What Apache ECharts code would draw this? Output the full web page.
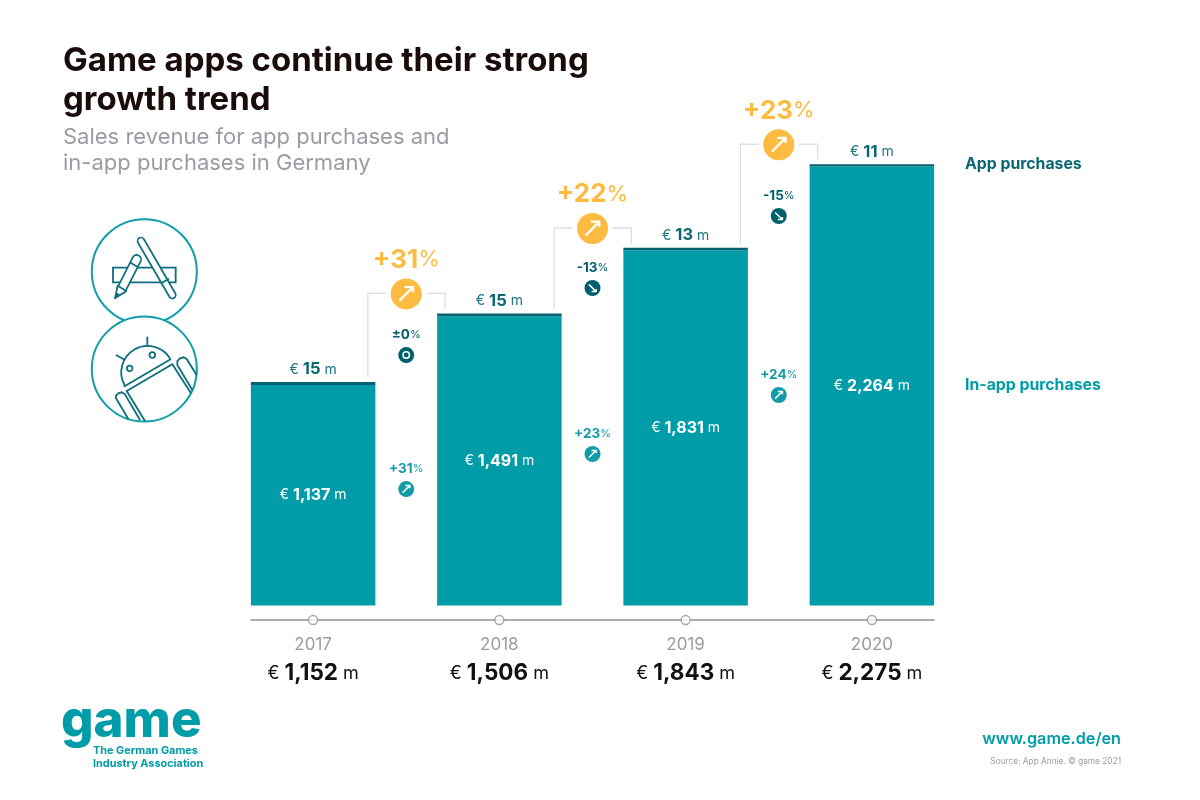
<!DOCTYPE html>
<html>
<head>
<meta charset="utf-8">
<style>html,body{margin:0;padding:0;background:#fff}#chart{width:1200px;height:800px}</style>
<script src="https://cdn.jsdelivr.net/npm/echarts@6/dist/echarts.min.js"></script>
</head>
<body>
<div id="chart"></div>
<script>
// Sales revenue in million euros
const years = ['2017', '2018', '2019', '2020'];
const inAppSales = [1137, 1491, 1831, 2264];
const appSales = [15, 15, 13, 11];
const yearTotals = [1152, 1506, 1843, 2275];
// Year-on-year change in percent, one entry per pair of years
const overallGrowth = [31, 22, 23];
const inAppGrowth = [31, 23, 24];
const appGrowth = [0, -13, -15];
// Height of the small change markers, in revenue units of the y axis
const inAppMarkerLevel = [600, 781, 1085];
const appMarkerLevel = [1291, 1637, 2008];

const TEAL = '#009ca8', DARK = '#00616f', AMBER = '#fdbb41', GREY = '#9a9ca3';
const FONT = 'Inter';
const BAR_WIDTH = 124.5;
const fmt = v => v.toLocaleString('en-US');
const signed = g => (g > 0 ? '+' : g < 0 ? '-' : '\u00b1') + Math.abs(g);

// Direction glyph inside a growth badge: up-right, down-right or a ring for no change
function glyph(cx, cy, g, s, lw, fill) {
  const st = { stroke: '#fff', lineWidth: lw, fill: 'none' };
  if (g === 0) {
    return [{ type: 'circle', shape: { cx, cy, r: s * 0.9 }, style: { stroke: '#fff', lineWidth: lw, fill: fill } }];
  }
  const d = g > 0 ? -1 : 1;
  return [
    { type: 'line', shape: { x1: cx - s, y1: cy - d * s, x2: cx + s * 0.9, y2: cy + d * s * 0.9 }, style: st },
    { type: 'polyline', shape: { points: [[cx - s * 0.25, cy + d * s], [cx + s, cy + d * s], [cx + s, cy + d * s * 0.25]] }, style: st }
  ];
}

function richLabel(x, y, main, color, mainSize, unitSize) {
  return {
    type: 'text', x, y,
    style: {
      text: '{m|' + main + '}{u|%}',
      textAlign: 'center', textVerticalAlign: 'middle',
      rich: {
        m: { fontFamily: FONT, fontWeight: 700, fontSize: mainSize, fill: color, color },
        u: { fontFamily: FONT, fontWeight: 400, fontSize: unitSize, fill: color, color }
      }
    }
  };
}

// Overall growth between two years: bracket, amber badge and headline figure
function renderOverall(params, api) {
  const i = params.dataIndex;
  const g = overallGrowth[i];
  const [cx, cy] = api.coord([api.value(0), api.value(1)]);
  const from = api.coord([i, yearTotals[i]]);
  const to = api.coord([i + 1, yearTotals[i + 1]]);
  const lx = from[0] + BAR_WIDTH / 2 - 7.5, rx = to[0] - BAR_WIDTH / 2 + 8;
  const ly = cy - 0.5;
  const line = { stroke: '#dcdfe1', lineWidth: 1.3, fill: 'none' };
  return {
    type: 'group',
    children: [
      { type: 'polyline', shape: { points: [[lx, from[1] - 4.5], [lx, ly], [cx - 20, ly]] }, style: line },
      { type: 'polyline', shape: { points: [[cx + 20, ly], [rx, ly], [rx, to[1] - 4.5]] }, style: line },
      { type: 'circle', shape: { cx, cy, r: 15.5 }, style: { fill: AMBER } },
      ...glyph(cx, cy, g, 6.8, 2.3, AMBER),
      richLabel(cx, cy - 34, signed(g), AMBER, 26, 22)
    ]
  };
}

// Small badge with its percentage for one revenue stream
function smallBadge(values, color) {
  return function (params, api) {
    const g = values[params.dataIndex];
    const [cx, cy] = api.coord([api.value(0), api.value(1)]);
    return {
      type: 'group',
      children: [
        { type: 'circle', shape: { cx, cy, r: 8 }, style: { fill: color } },
        ...glyph(cx, cy, g, 3.6, 1.5, color),
        richLabel(cx, cy - 20, signed(g), color, 13.5, 11)
      ]
    };
  };
}

const gapPositions = overallGrowth.map((_, i) => i + 0.5);
const PX_TO_UNITS = 1 / 0.19394;

const series = [
  {
    name: 'In-app purchases', type: 'bar', stack: 'sales', barWidth: BAR_WIDTH,
    xAxisIndex: 1, yAxisIndex: 1,
    itemStyle: { color: TEAL },
    data: inAppSales,
    label: {
      show: true, position: 'inside',
      formatter: p => '{c|\u20ac }{n|' + fmt(p.value) + '}{c| m}',
      rich: {
        c: { color: '#fff', fontFamily: FONT, fontSize: 14 },
        n: { color: '#fff', fontFamily: FONT, fontSize: 16, fontWeight: 700 }
      }
    }
  },
  {
    name: 'App purchases', type: 'bar', stack: 'sales', barWidth: BAR_WIDTH,
    xAxisIndex: 1, yAxisIndex: 1,
    itemStyle: { color: DARK },
    data: appSales,
    label: {
      show: true, position: 'top', distance: 4,
      formatter: p => '{c|\u20ac }{n|' + fmt(p.value) + '}{c| m}',
      rich: {
        c: { color: '#1d7684', fontFamily: FONT, fontSize: 14 },
        n: { color: '#0b6674', fontFamily: FONT, fontSize: 16.5, fontWeight: 700 }
      }
    }
  },
  {
    name: 'Axis markers', type: 'scatter', symbol: 'circle', symbolSize: 9, clip: false, silent: true, z: 5,
    itemStyle: { color: '#fff', borderColor: '#8d919b', borderWidth: 1.3 },
    data: years.map((_, i) => [i, -75])
  },
  {
    name: 'Overall growth', type: 'custom', clip: false, silent: true, z: 6,
    renderItem: renderOverall,
    encode: { x: 0, y: 1 },
    data: gapPositions.map((x, i) => [x, yearTotals[i + 1] + 19.5 * PX_TO_UNITS])
  },
  {
    name: 'In-app change', type: 'custom', clip: false, silent: true, z: 6,
    renderItem: smallBadge(inAppGrowth, '#119ca8'),
    encode: { x: 0, y: 1 },
    data: gapPositions.map((x, i) => [x, inAppMarkerLevel[i]])
  },
  {
    name: 'App change', type: 'custom', clip: false, silent: true, z: 6,
    renderItem: smallBadge(appGrowth, '#00606e'),
    encode: { x: 0, y: 1 },
    data: gapPositions.map((x, i) => [x, appMarkerLevel[i]])
  }
];

// Decorative icons and page furniture
const iconStroke = { stroke: '#0d6f7c', lineWidth: 1.8, fill: 'none' };
const ringStroke = { stroke: '#119ea8', lineWidth: 2, fill: '#fff' };
const atA = (x, y) => [85 + x / 3, 215 + y / 3];
const atR = (x, y) => [85 + x / 3, 315 + y / 3];
const poly = (pts, map, style) => ({ type: 'polyline', shape: { points: pts.map(p => map(p[0], p[1])) }, style: style || iconStroke });
const pill = (a, b, map, w) => {
  const [x1, y1] = map(a[0], a[1]), [x2, y2] = map(b[0], b[1]);
  return [
    { type: 'line', shape: { x1, y1, x2, y2 }, style: { stroke: '#0d6f7c', lineWidth: w, lineCap: 'round' } },
    { type: 'line', shape: { x1, y1, x2, y2 }, style: { stroke: '#fff', lineWidth: w - 3.4, lineCap: 'round' } }
  ];
};
const txt = (text, x, y, size, weight, fill, align) => ({
  type: 'text', x, y,
  style: { text, fontFamily: FONT, fontSize: size, fontWeight: weight, fill, textAlign: align || 'left', textVerticalAlign: 'middle' }
});

const appIcon = [
  { type: 'circle', shape: { cx: 144.3, cy: 271.7, r: 52.5 }, style: ringStroke },
  (() => {
    const [x, y] = atA(84, 158), [x2, y2] = atA(272, 202);
    return { type: 'rect', shape: { x, y, width: x2 - x, height: y2 - y }, style: iconStroke };
  })(),
  ...pill([168, 78], [262, 240], atA, 8.5),
  poly([[228, 205], [252, 191]], atA),
  ...pill([110, 222], [155, 133], atA, 10.5),
  { type: 'polygon', shape: { points: [atA(90, 250), atA(98, 212), atA(124, 228)] }, style: { stroke: '#0d6f7c', lineWidth: 1.8, fill: '#fff', lineJoin: 'round' } },
  { type: 'polygon', shape: { points: [atA(90, 250), atA(94, 232), atA(106, 240)] }, style: { fill: '#0d6f7c' } },
  poly([[134, 142], [160, 157]], atA)
];

const [domeX, domeY] = atR(188, 172);
const androidIcon = [
  { type: 'circle', shape: { cx: 144.3, cy: 369, r: 52.5 }, style: ringStroke },
  { type: 'arc', shape: { cx: domeX, cy: domeY, r: 26.4, startAngle: Math.PI * 5 / 6, endAngle: Math.PI * 11 / 6 }, style: iconStroke },
  poly([[116, 215], [258, 132]], atR),
  poly([[180, 318], [125, 228], [262, 148], [318, 235]], atR),
  poly([[187, 65], [187, 94]], atR),
  poly([[93, 120], [120, 135]], atR),
  { type: 'circle', shape: { cx: atR(134, 160)[0], cy: atR(134, 160)[1], r: 2.8 }, style: iconStroke },
  { type: 'circle', shape: { cx: atR(202, 120)[0], cy: atR(202, 120)[1], r: 2.8 }, style: iconStroke },
  poly([[130, 312], [93, 250], [93, 242], [100, 235], [110, 232], [120, 238], [165, 315]], atR),
  poly([[322, 225], [277, 150], [277, 138], [285, 130], [296, 127], [305, 132], [335, 180]], atR)
];

const option = {
  animation: false,
  backgroundColor: '#fff',
  textStyle: { fontFamily: FONT },
  title: {
    left: 63, top: 42, padding: 0,
    text: 'Game apps continue their strong\ngrowth trend',
    textStyle: { fontFamily: FONT, fontWeight: 700, fontSize: 33, lineHeight: 39, color: '#1b0c0c' },
    subtext: 'Sales revenue for app purchases and\nin-app purchases in Germany',
    subtextStyle: { fontFamily: FONT, fontWeight: 400, fontSize: 22, lineHeight: 26, color: '#9a9ca3' },
    itemGap: 4
  },
  grid: [
    { left: 251, width: 683, top: 140, height: 480 },
    { left: 220, width: 745, top: 140, height: 480 }
  ],
  xAxis: [
    {
      // Shorter baseline rule and the horizontal scale of the annotations
      gridIndex: 0, type: 'value', min: -1 / 3, max: 10 / 3,
      splitLine: { show: false }, axisTick: { show: false }, axisLabel: { show: false },
      axisLine: { show: true, onZero: false, lineStyle: { color: '#8d919b', width: 1.5 } }
    },
    {
      gridIndex: 1, type: 'category', data: years,
      axisTick: { show: false }, axisLine: { show: false },
      axisLabel: {
        margin: 10,
        formatter: (v, i) => '{y|' + v + '}\n{c|\u20ac }{t|' + fmt(yearTotals[i]) + '}{c| m}',
        rich: {
          y: { color: GREY, fontFamily: FONT, fontSize: 17, lineHeight: 29 },
          c: { color: '#111', fontFamily: FONT, fontSize: 18, lineHeight: 29 },
          t: { color: '#111', fontFamily: FONT, fontSize: 22.5, fontWeight: 700, lineHeight: 29 }
        }
      }
    }
  ],
  yAxis: [
    { gridIndex: 0, type: 'value', min: -75, max: 2400, show: false, splitLine: { show: false } },
    { gridIndex: 1, type: 'value', min: -75, max: 2400, show: false, splitLine: { show: false } }
  ],
  series,
  graphic: [
    ...appIcon,
    ...androidIcon,
    txt('App purchases', 965, 164, 15.8, 700, '#0b6674'),
    txt('In-app purchases', 965, 385, 15.8, 700, TEAL),
    txt('game', 61, 722, 51, 800, TEAL),
    txt('The German Games', 93, 751, 10.9, 700, TEAL),
    txt('Industry Association', 93, 764, 10.9, 700, TEAL),
    txt('www.game.de/en', 1121, 739, 16.2, 600, TEAL, 'right'),
    txt('Source: App Annie. \u00a9 game 2021', 1121, 762, 8.3, 400, GREY, 'right')
  ]
};

const chart = echarts.init(document.getElementById('chart'), null, { renderer: 'canvas' });
chart.setOption(option);
</script>
</body>
</html>
